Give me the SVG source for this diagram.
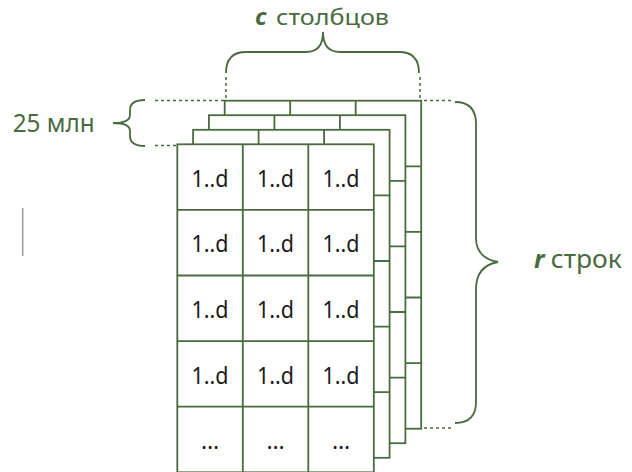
<svg xmlns="http://www.w3.org/2000/svg" xmlns:xlink="http://www.w3.org/1999/xlink" width="632" height="472" viewBox="0 0 632 472">
  <style>
    .ln { fill: none; stroke: #4a6a3f; stroke-width: 1.8; }
    .sheet { fill: #ffffff; stroke: #4a6a3f; stroke-width: 1.8; }
    .dot { fill: none; stroke: #4a6a3f; stroke-width: 1.5; stroke-dasharray: 3 3; }
    .lbl { font-family: "Noto Sans", "DejaVu Sans", sans-serif; fill: #4a6a3f; }
    .var { font-weight: bold; font-style: italic; }
    .cell { font-family: "Noto Sans", "Liberation Sans", sans-serif; font-size: 23px; fill: #1a1a1a; text-anchor: middle; }
  </style>
  <defs>
    <!-- one 3 x 5 sheet of cells -->
    <g id="sheet">
      <rect class="sheet" x="0" y="0" width="196.5" height="328"/>
      <path class="ln" d="M65.5,0 V328 M131,0 V328 M0,65.6 H196.5 M0,131.2 H196.5 M0,196.8 H196.5 M0,262.4 H196.5"/>
    </g>
  </defs>

  <!-- stacked sheets, back to front -->
  <g id="layer-4"><use xlink:href="#sheet" x="224.7" y="100.7"/></g>
  <g id="layer-3"><use xlink:href="#sheet" x="208.9" y="115.2"/></g>
  <g id="layer-2"><use xlink:href="#sheet" x="193.1" y="129.8"/></g>
  <g id="layer-1">
    <use xlink:href="#sheet" x="177.3" y="144.3"/>
    <text class="cell" x="210" y="186.7" textLength="37" lengthAdjust="spacingAndGlyphs">1..d</text>
    <text class="cell" x="275.5" y="186.7" textLength="37" lengthAdjust="spacingAndGlyphs">1..d</text>
    <text class="cell" x="341" y="186.7" textLength="37" lengthAdjust="spacingAndGlyphs">1..d</text>
    <text class="cell" x="210" y="252.3" textLength="37" lengthAdjust="spacingAndGlyphs">1..d</text>
    <text class="cell" x="275.5" y="252.3" textLength="37" lengthAdjust="spacingAndGlyphs">1..d</text>
    <text class="cell" x="341" y="252.3" textLength="37" lengthAdjust="spacingAndGlyphs">1..d</text>
    <text class="cell" x="210" y="317.9" textLength="37" lengthAdjust="spacingAndGlyphs">1..d</text>
    <text class="cell" x="275.5" y="317.9" textLength="37" lengthAdjust="spacingAndGlyphs">1..d</text>
    <text class="cell" x="341" y="317.9" textLength="37" lengthAdjust="spacingAndGlyphs">1..d</text>
    <text class="cell" x="210" y="383.5" textLength="37" lengthAdjust="spacingAndGlyphs">1..d</text>
    <text class="cell" x="275.5" y="383.5" textLength="37" lengthAdjust="spacingAndGlyphs">1..d</text>
    <text class="cell" x="341" y="383.5" textLength="37" lengthAdjust="spacingAndGlyphs">1..d</text>
    <text class="cell" x="210" y="448.5">…</text>
    <text class="cell" x="275.5" y="448.5">…</text>
    <text class="cell" x="341" y="448.5">…</text>
  </g>

  <!-- braces and dotted guides -->
  <g id="connectors">
    <path class="dot" d="M155,100.5 H224 M155,145.5 H177"/>
    <path class="dot" d="M226,77 V99 M420,77 V99"/>
    <path class="dot" d="M424,100.5 H451 M424,428 H451"/>
    <path class="ln" d="M145,100 Q130,100 130,110 L130,115 Q130,123 113,123 Q130,123 130,131 L130,136 Q130,146 145,146"/>
    <path class="ln" d="M226,73 Q226,52 246,52 L306,52 Q323,52 323,32 Q323,52 340,52 L399,52 Q419,52 419,73"/>
    <path class="ln" d="M455,102 Q476,102 476,124 L476,238 Q476,258 498,262 Q476,266 476,289 L476,402 Q476,423 455,423"/>
  </g>

  <!-- labels -->
  <g id="labels">
    <text class="lbl" x="12.7" y="131.7" font-size="25" textLength="82" lengthAdjust="spacingAndGlyphs">25 млн</text>
    <text class="lbl var" x="255" y="24.5" font-size="24">c</text>
    <text class="lbl" x="276" y="24.5" font-size="21.5" textLength="113" lengthAdjust="spacingAndGlyphs">столбцов</text>
    <text class="lbl var" x="534" y="267.7" font-size="25">r</text>
    <text class="lbl" x="550.7" y="267.7" font-size="25" textLength="71" lengthAdjust="spacingAndGlyphs">строк</text>
  </g>

  <!-- text cursor mark -->
  <line x1="22.7" y1="208" x2="22.7" y2="256" stroke="#9a9a9a" stroke-width="1.5"/>
</svg>
